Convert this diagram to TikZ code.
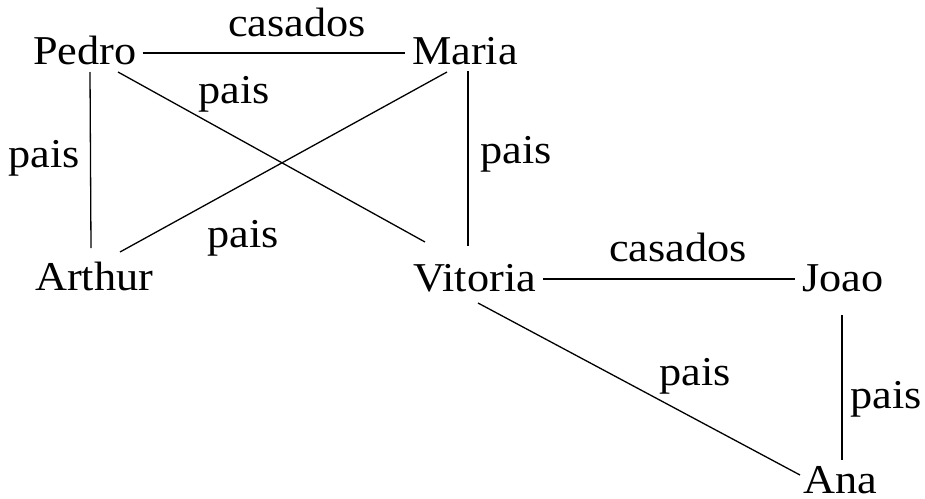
\documentclass[tikz,border=0pt]{standalone}
\usepackage{fontspec}
\setmainfont{Liberation Serif}[FakeStretch=1.08]
\usetikzlibrary{calc}
\tikzset{
  person/.style={anchor=base west, inner sep=0pt, font=\fontsize{41}{49}\selectfont},
  rel/.style={anchor=base west, inner sep=0pt, font=\fontsize{41}{49}\selectfont},
  link/.style={draw=black, line width=1.3pt}
}
\begin{document}
\begin{tikzpicture}[x=1pt, y=-1pt]
\useasboundingbox (0,0) rectangle (925,498);
% people
\node[person] (Pedro)   at (33,64)  {Pedro};
\node[person] (Maria)   at (412,64) {Maria};
\node[person] (Arthur)  at (35,290) {Arthur};
\node[person] (Vitoria) at (413,291) {Vitoria};
\node[person] (Joao)    at (802,291) {Joao};
\node[person] (Ana)     at (803,493) {Ana};
% labels
\node[rel] (l1) at (228,36)  {casados};
\node[rel] (l2) at (8,167)   {pais};
\node[rel] (l3) at (198,103) {pais};
\node[rel] (l4) at (480,163) {pais};
\node[rel] (l5) at (207,247) {pais};
\node[rel] (l6) at (609,261) {casados};
\node[rel] (l7) at (659,385) {pais};
\node[rel] (l8) at (850,408) {pais};
% connectors
\draw[link] ($(Pedro.base east)+(6,-11)$) -- ($(Maria.base west)+(-7,-11)$);
\draw[link] ($(Pedro.base west)+(57,8)$) -- ($(Arthur.base west)+(56,-42)$);
\draw[link] ($(Maria.base west)+(56,7)$) -- ($(Vitoria.base west)+(55,-45)$);
\draw[link] ($(Pedro.base west)+(85,8)$) -- ($(Vitoria.base west)+(12,-49)$);
\draw[link] ($(Maria.base west)+(35,8)$) -- ($(Arthur.base west)+(85,-38)$);
\draw[link] ($(Vitoria.base east)+(7,-12)$) -- ($(Joao.base west)+(-7,-12)$);
\draw[link] ($(Vitoria.base west)+(65,12)$) -- ($(Ana.base west)+(-3,-18)$);
\draw[link] ($(Joao.base west)+(40,24)$) -- ($(Ana.base west)+(39,-33)$);
\end{tikzpicture}
\end{document}
